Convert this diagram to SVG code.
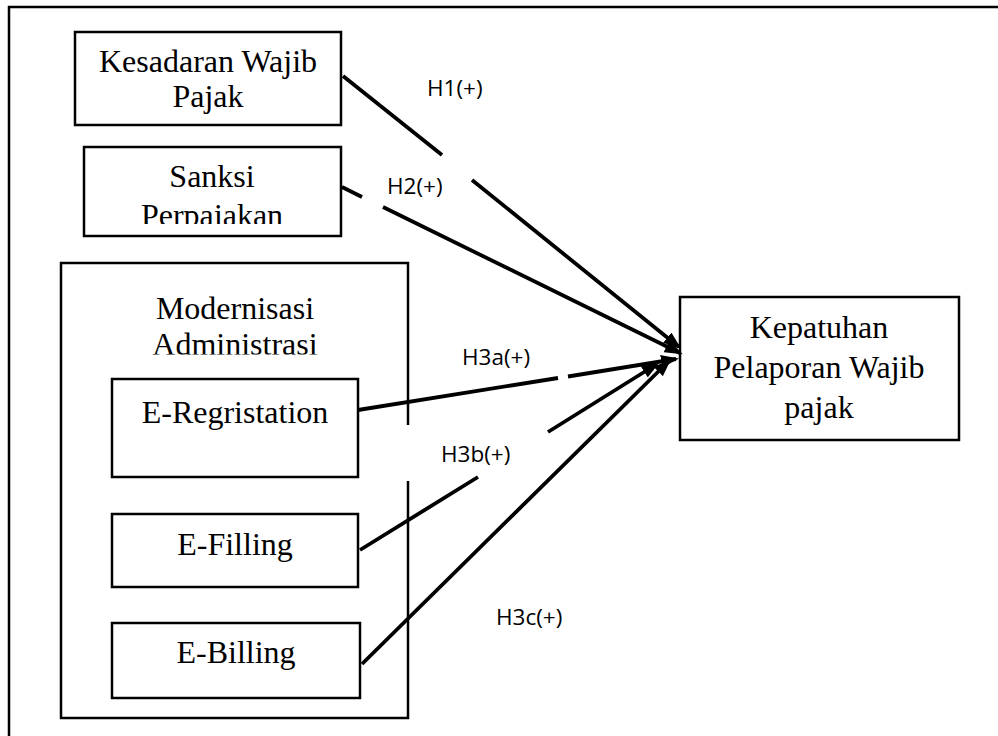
<svg xmlns="http://www.w3.org/2000/svg" width="998" height="736" viewBox="0 0 998 736">
<style>
.box{fill:#fff;stroke:#000;stroke-width:2.5}
.t{font-family:"Liberation Serif","Times New Roman",serif;font-size:32px;fill:#000;text-anchor:middle}
.lbl{font-family:"Open Sans","Liberation Sans",sans-serif;font-size:22.5px;fill:#000}
.c{fill:none;stroke:#000;stroke-width:3.8;marker-end:url(#ah)}
</style>
<defs>
<marker id="ah" viewBox="0 0 18 13" refX="15" refY="6.5" markerWidth="18" markerHeight="13" markerUnits="userSpaceOnUse" orient="auto">
<path d="M0,0 L18,6.5 L0,13 Z" fill="#000"/>
</marker>
<clipPath id="clipS"><rect x="84" y="147" width="258" height="77"/></clipPath>
<clipPath id="clipM"><rect x="61" y="263" width="347" height="91.5"/></clipPath>
</defs>
<rect width="998" height="736" fill="#fff"/>
<path d="M9,736 V7 H998" fill="none" stroke="#000" stroke-width="2.5"/>

<g id="kesadaran">
<rect class="box" x="75" y="32" width="266" height="93"/>
<text class="t" x="208" y="72">Kesadaran Wajib</text>
<text class="t" x="208" y="107">Pajak</text>
</g>

<g id="sanksi">
<rect class="box" x="84" y="147" width="257" height="89"/>
<g clip-path="url(#clipS)">
<text class="t" x="212" y="187">Sanksi</text>
<text class="t" x="212" y="225.5">Perpajakan</text>
</g>
</g>

<g id="modernisasi">
<path d="M408,425 V263 H61 V718 H408 V481" fill="none" stroke="#000" stroke-width="2.5"/>
<g clip-path="url(#clipM)">
<text class="t" x="235" y="319">Modernisasi</text>
<text class="t" x="235" y="355">Administrasi</text>
</g>
</g>

<g id="e-regristation">
<rect class="box" x="112" y="379" width="246" height="98"/>
<text class="t" x="235" y="423">E-Regristation</text>
</g>

<g id="e-filling">
<rect class="box" x="112" y="514" width="246" height="73"/>
<text class="t" x="235" y="555">E-Filling</text>
</g>

<g id="e-billing">
<rect class="box" x="112" y="623" width="248" height="75"/>
<text class="t" x="236" y="663">E-Billing</text>
</g>

<g id="kepatuhan">
<rect class="box" x="680" y="297" width="279" height="143"/>
<text class="t" x="819" y="338">Kepatuhan</text>
<text class="t" x="819" y="378">Pelaporan Wajib</text>
<text class="t" x="819" y="418">pajak</text>
</g>

<g id="connectors">
<path class="c" d="M343,76 L442,155 M472,180 L679,347"/>
<path class="c" d="M342,187 L362,197 M383,207 L680,353"/>
<path class="c" d="M358,410 L558,378 M568,376.5 L676,359"/>
<path class="c" d="M360,550 L478,477 M548,432 L657,364"/>
<path class="c" d="M362,664 L669,361"/>
</g>

<g id="labels">
<text class="lbl" x="427" y="96">H1(+)</text>
<text class="lbl" x="387" y="194">H2(+)</text>
<text class="lbl" x="462" y="365">H3a(+)</text>
<text class="lbl" x="441" y="462">H3b(+)</text>
<text class="lbl" x="496" y="625">H3c(+)</text>
</g>
</svg>
